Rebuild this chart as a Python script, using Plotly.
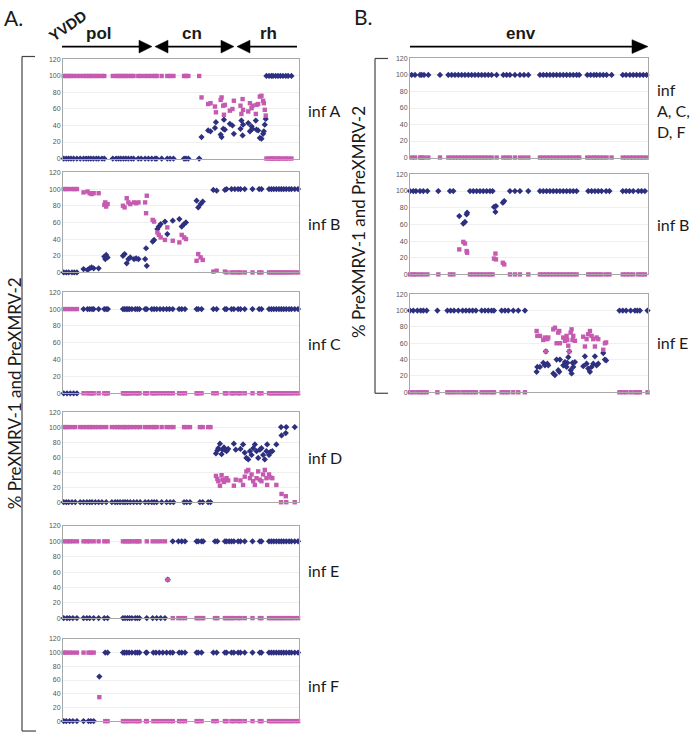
import plotly.graph_objects as go

W, H = 691, 737
BLUE = "#2D2F7F"
PINK = "#C65AB1"

# ---------------- DATA (x = relative genome position, 0-100) ----------------
# Panel A (pol / cn / rh region)
# infA
infA_pre1_full_x = [86.2, 87.3, 88.3, 89.0, 90.1, 91.1, 92.1, 93.2, 94.4, 95.4, 96.8]
infA_pre2_full_x = [0.3, 1.4, 2.4, 3.4, 4.5, 5.9, 7.3, 8.7, 9.8, 10.8, 11.8, 12.9, 14.1, 15.1,
                    16.5, 17.5, 21.1, 22.5, 23.5, 24.5, 25.6, 26.6, 27.7, 28.9, 29.9, 31.9, 33.1,
                    34.8, 36.2, 37.6, 39.0, 39.7, 41.8, 44.2, 45.4, 46.8, 51.3, 52.1, 53.1, 57.7]
infA_mix_x = [58.7, 61.5, 62.5, 64.4, 64.8, 66.8, 67.2, 67.9, 68.2, 68.6, 70.7, 71.8, 72.4, 75.2,
              75.6, 76.1, 76.3, 78.5, 79.2, 79.9, 80.3, 81.7, 82.0, 82.7, 83.4, 84.1, 84.8, 85.1,
              85.5, 85.9]
infA_mix_pre1 = [26, 34, 33, 37, 44, 29, 26, 36, 47, 35, 42, 40, 30, 36, 46, 28, 41, 43, 33, 39,
                 36, 46, 35, 34, 25, 24, 30, 33, 41, 48]
infA_mix_pre2 = [74, 66, 67, 63, 56, 71, 74, 64, 53, 65, 58, 60, 70, 64, 54, 72, 59, 57, 67, 61,
                 64, 54, 65, 66, 75, 76, 70, 67, 59, 52]

# infB
infB_pre1_full_x = [69.3, 71.4, 72.8, 74.2, 75.2, 77.0, 80.3, 83.1, 84.1, 87.3, 88.3, 89.3, 90.4,
                    91.5, 92.5, 93.5, 94.6, 95.8, 96.8, 98.2, 99.6]
infB_pre2_full_x = [0.3, 1.4, 2.4, 3.8, 4.8, 5.9]
infB_mix_x = [8.7, 10.4, 11.3, 12.1, 13.0, 15.1, 17.5, 17.9, 18.3, 18.9, 25.4, 26.1, 27.0, 27.7,
              28.5, 30.1, 31.0, 32.0, 34.8, 35.2, 35.5, 38.0, 38.6, 40.0, 40.6, 41.4, 43.2, 44.2,
              46.5, 49.3, 50.3, 51.3, 52.1, 56.6, 57.3, 58.3, 59.2, 63.7, 65.1, 68.6]
infB_mix_pre1 = [4, 3, 5, 6, 5, 5, 19, 16, 21, 18, 20, 22, 11, 16, 18, 16, 17, 16, 16, 29, 8,
                 37, 39, 52, 55, 58, 61, 46, 62, 64, 55, 58, 60, 86, 78, 82, 85, 99, 98, 99]
infB_mix_pre2 = [96, 97, 95, 94, 95, 95, 81, 84, 79, 82, 80, 78, 89, 84, 82, 84, 83, 84, 84, 71,
                 92, 63, 61, 48, 45, 42, 39, 54, 38, 36, 45, 42, 40, 14, 22, 18, 15, 1, 2, 1]

# infC
infC_pre1_full_x = [8.7, 10.4, 11.3, 12.3, 13.0, 15.1, 17.5, 18.3, 19.0, 25.4, 26.1, 26.8, 27.5,
                    28.2, 29.2, 30.6, 31.5, 32.4, 34.8, 35.5, 37.6, 38.6, 39.7, 41.1, 42.5, 43.9,
                    45.1, 46.5, 49.2, 50.3, 51.7, 56.6, 57.3, 58.7, 63.7, 65.1, 68.6, 69.3, 71.4,
                    72.4, 74.2, 75.2, 77.0, 80.3, 83.1, 84.1, 87.3, 88.3, 89.3, 90.4, 91.5, 92.5,
                    93.5, 94.6, 95.8, 96.8, 98.2, 99.6]
infC_pre2_full_x = [0.3, 1.7, 3.1, 4.5, 5.9]
infC_mix_x = []
infC_mix_pre1 = []
infC_mix_pre2 = []

# infD
infD_pre1_full_x = [92.4, 94.6, 98.2]
infD_pre2_full_x = [0.3, 1.4, 2.4, 3.8, 5.2, 7.3, 8.7, 10.1, 11.3, 12.3, 13.7, 15.1, 16.5, 18.3,
                    20.7, 22.1, 23.1, 24.2, 25.4, 26.3, 27.3, 28.5, 29.9, 31.3, 32.7, 34.8, 36.2,
                    37.6, 38.6, 39.7, 41.8, 43.9, 45.4, 46.8, 51.3, 52.4, 53.8, 58.0, 59.2, 61.5,
                    62.5]
infD_mix_x = [64.8, 65.4, 65.8, 66.5, 67.2, 67.6, 68.2, 68.6, 69.3, 70.0, 72.4, 73.2, 75.2, 76.3,
              77.0, 77.7, 78.5, 79.2, 79.9, 80.6, 81.3, 82.0, 82.7, 83.4, 84.1, 84.8, 85.5, 86.2,
              86.5, 87.3, 87.9, 88.7, 90.4, 92.6, 94.4]
infD_mix_pre1 = [65, 69, 72, 78, 64, 70, 73, 70, 68, 71, 78, 70, 71, 77, 66, 59, 57, 68, 63, 72,
                 77, 68, 59, 70, 72, 63, 57, 68, 77, 63, 67, 68, 77, 89, 92]
infD_mix_pre2 = [35, 31, 28, 22, 36, 30, 27, 30, 32, 29, 22, 30, 29, 23, 34, 41, 43, 32, 37, 28,
                 23, 32, 41, 30, 28, 37, 43, 32, 23, 37, 33, 32, 23, 11, 8]

# infE
infE_pre1_full_x = [46.5, 48.9, 50.3, 51.7, 56.6, 57.3, 58.7, 59.4, 64.4, 65.4, 68.6, 69.3, 70.4,
                    71.4, 72.4, 74.2, 75.2, 77.0, 80.3, 83.4, 84.1, 87.3, 88.3, 89.3, 90.4, 91.5,
                    92.5, 93.5, 94.6, 95.8, 96.8, 98.2, 99.6]
infE_pre2_full_x = [0.3, 1.7, 2.8, 4.2, 5.9, 8.7, 10.1, 11.3, 13.0, 15.1, 17.5, 18.9, 25.4, 26.3,
                    27.3, 28.2, 29.2, 30.6, 31.5, 32.4, 35.5, 38.0, 39.7, 41.4, 43.2]
infE_mix_x = [44.4]
infE_mix_pre1 = [50]
infE_mix_pre2 = [50]

# infF
infF_pre1_full_x = [17.9, 18.9, 25.4, 26.1, 27.0, 28.0, 29.2, 30.6, 31.5, 32.4, 35.2, 35.5, 38.3,
                    39.4, 40.8, 42.3, 43.9, 45.4, 46.5, 49.2, 50.3, 51.7, 56.6, 57.3, 58.7, 63.7,
                    65.1, 68.6, 69.3, 71.4, 72.4, 74.2, 75.2, 77.0, 80.3, 83.4, 84.1, 87.3, 88.3,
                    89.3, 90.4, 91.5, 92.5, 93.5, 94.6, 95.8, 96.8, 98.2, 99.6]
infF_pre2_full_x = [0.3, 1.4, 2.8, 4.2, 5.9, 8.7, 10.8, 11.8, 13.0]
infF_mix_x = [15.4]
infF_mix_pre1 = [65]
infF_mix_pre2 = [35]

# Panel B (env region)
envACDF_pre1_full_x = [0.7, 2.1, 4.2, 4.9, 5.9, 7.7, 12.6, 16.1, 17.5, 18.9, 20.3, 21.7, 23.1,
                       24.5, 25.9, 27.3, 28.7, 30.1, 31.5, 32.9, 34.3, 36.4, 39.2, 40.6, 42.0,
                       44.1, 46.2, 47.9, 49.7, 54.6, 56.0, 57.4, 58.8, 60.2, 61.6, 63.0, 64.4,
                       65.8, 67.2, 68.6, 70.0, 71.1, 74.5, 75.9, 77.3, 78.4, 79.8, 81.2, 82.6,
                       84.7, 89.4, 90.8, 92.4, 93.8, 95.2, 96.6, 98.0, 99.4]
envACDF_pre2_full_x = []
envACDF_mix_x = []
envACDF_mix_pre1 = []
envACDF_mix_pre2 = []

envB_pre1_full_x = [0.0, 1.4, 2.5, 4.2, 5.6, 7.3, 11.9, 16.8, 18.2, 25.2, 26.6, 28.0, 29.4, 30.8,
                    32.2, 33.6, 34.7, 42.0, 44.1, 46.2, 49.7, 54.6, 56.0, 57.4, 58.8, 60.2, 61.6,
                    63.0, 64.4, 65.8, 67.2, 68.6, 70.0, 74.9, 76.3, 77.7, 79.1, 80.5, 82.4, 83.8,
                    89.4, 90.8, 92.2, 93.8, 95.9, 97.3, 98.7]
envB_pre2_full_x = []
envB_mix_x = [20.7, 22.4, 23.1, 23.8, 24.0, 35.3, 35.9, 36.1, 39.0, 39.6]
envB_mix_pre1 = [70, 61, 63, 72, 74, 81, 75, 82, 86, 88]
envB_mix_pre2 = [30, 39, 37, 28, 26, 19, 25, 18, 14, 12]

envE_pre1_full_x = [0.0, 1.4, 3.1, 4.5, 5.6, 7.0, 11.5, 15.7, 17.1, 18.5, 20.3, 22.1, 23.5, 24.9,
                    26.3, 27.7, 30.1, 31.5, 32.9, 34.3, 35.3, 38.5, 39.9, 41.3, 43.4, 45.5, 48.3,
                    88.0, 89.4, 90.8, 92.7, 94.5, 95.5, 96.6, 99.8]
envE_pre2_full_x = []
envE_mix_x = [53.2, 53.5, 54.6, 56.0, 56.7, 57.1, 57.7, 58.1, 60.2, 60.9, 61.6, 62.3, 62.7, 63.0,
              64.4, 65.1, 65.8, 66.1, 66.5, 66.9, 67.5, 67.9, 68.3, 68.6, 69.3, 72.8, 73.5, 74.2,
              74.9, 75.6, 76.3, 77.0, 77.7, 78.4, 79.1, 81.2, 81.9, 82.4]
envE_mix_pre2 = [75, 69, 69, 64, 67, 50, 65, 67, 77, 79, 60, 73, 75, 60, 67, 63, 69, 64, 57, 50,
                 73, 77, 64, 69, 63, 68, 56, 65, 71, 75, 69, 65, 56, 67, 65, 52, 60, 61]
envE_mix_pre1 = [25, 31, 31, 36, 33, 50, 35, 33, 23, 21, 40, 27, 25, 40, 33, 37, 31, 36, 43, 50,
                 27, 23, 36, 31, 37, 32, 44, 35, 29, 25, 31, 35, 44, 33, 35, 48, 40, 39]

y_ticks = [0, 20, 40, 60, 80, 100, 120]
y_ticklabels = ["0", "20", "40", "60", "80", "100", "120"]

panel_labels_A = ["inf A", "inf B", "inf C", "inf D", "inf E", "inf F"]
panel_labels_B = ["inf<br>A, C,<br>D, F", "inf B", "inf E"]

# ---------------- LAYOUT (pixel geometry) ----------------
LX = (63, 299)
RX = (410, 648)
panels = [
    (infA_pre1_full_x, infA_pre2_full_x, infA_mix_x, infA_mix_pre1, infA_mix_pre2, LX, (56, 156)),
    (infB_pre1_full_x, infB_pre2_full_x, infB_mix_x, infB_mix_pre1, infB_mix_pre2, LX, (170, 271)),
    (infC_pre1_full_x, infC_pre2_full_x, infC_mix_x, infC_mix_pre1, infC_mix_pre2, LX, (291, 393)),
    (infD_pre1_full_x, infD_pre2_full_x, infD_mix_x, infD_mix_pre1, infD_mix_pre2, LX, (412, 503)),
    (infE_pre1_full_x, infE_pre2_full_x, infE_mix_x, infE_mix_pre1, infE_mix_pre2, LX, (527, 620)),
    (infF_pre1_full_x, infF_pre2_full_x, infF_mix_x, infF_mix_pre1, infF_mix_pre2, LX, (641, 724)),
    (envACDF_pre1_full_x, envACDF_pre2_full_x, envACDF_mix_x, envACDF_mix_pre1, envACDF_mix_pre2, RX, (55, 155)),
    (envB_pre1_full_x, envB_pre2_full_x, envB_mix_x, envB_mix_pre1, envB_mix_pre2, RX, (172, 273)),
    (envE_pre1_full_x, envE_pre2_full_x, envE_mix_x, envE_mix_pre1, envE_mix_pre2, RX, (293, 392)),
]


def fx(p):
    return p / W


def fy(p):
    return 1 - p / H


fig = go.Figure()
lay = {}
for i, (f1, f2, mx, m1, m2, xd, yd) in enumerate(panels):
    n = i + 1
    sfx = "" if n == 1 else str(n)
    xs = list(f1) + list(f2) + list(mx)
    y1 = [100] * len(f1) + [0] * len(f2) + list(m1)
    y2 = [0] * len(f1) + [100] * len(f2) + list(m2)
    fig.add_trace(go.Scatter(x=xs, y=y1, mode="markers", cliponaxis=False, showlegend=False,
                             marker=dict(symbol="diamond", size=4.8, color=BLUE, line=dict(width=0)),
                             xaxis="x" + sfx, yaxis="y" + sfx, hoverinfo="skip"))
    fig.add_trace(go.Scatter(x=xs, y=y2, mode="markers", cliponaxis=False, showlegend=False,
                             marker=dict(symbol="square", size=4.4, color=PINK, line=dict(width=0)),
                             xaxis="x" + sfx, yaxis="y" + sfx, hoverinfo="skip"))
    lay["xaxis" + sfx] = dict(domain=[fx(xd[0]), fx(xd[1])], range=[0, 100], showgrid=False,
                              zeroline=False, showticklabels=False, ticks="", showline=True,
                              mirror=True, linecolor="#A8A8A8", linewidth=1, anchor="y" + sfx,
                              fixedrange=True)
    lay["yaxis" + sfx] = dict(domain=[fy(yd[1]), fy(yd[0])], range=[0, 120], tickvals=y_ticks,
                              ticktext=y_ticklabels, showgrid=True, gridcolor="#EFEFEF",
                              gridwidth=1, zeroline=False, showline=True, mirror=True,
                              linecolor="#A8A8A8", linewidth=1, ticks="", fixedrange=True,
                              tickfont=dict(size=7, color="#555555", family="Liberation Sans"),
                              anchor="x" + sfx)

ann = []
TXT = "#1a1a1a"
LBL = "Lato"
# panel letters
ann.append(dict(text="A.", x=fx(2), y=fy(14), xanchor="left", yanchor="middle",
                font=dict(size=21, family=LBL, color=TXT)))
ann.append(dict(text="B.", x=fx(352), y=fy(13), xanchor="left", yanchor="middle",
                font=dict(size=21, family=LBL, color=TXT)))
# gene labels
for t, cx in [("pol", 99), ("cn", 192), ("rh", 268)]:
    ann.append(dict(text="<b>%s</b>" % t, x=fx(cx), y=fy(30), xanchor="center", yanchor="middle",
                    font=dict(size=17, family="Liberation Sans", color=TXT)))
ann.append(dict(text="<b>env</b>", x=fx(521), y=fy(30), xanchor="center", yanchor="middle",
                font=dict(size=17, family="Liberation Sans", color=TXT)))
ann.append(dict(text="<b>YVDD</b>", x=fx(68), y=fy(22), xanchor="center", yanchor="middle",
                textangle=-35, font=dict(size=15, family="Liberation Sans", color=TXT)))
# infection labels
left_centers = [108, 222, 343, 458, 572, 688]
for t, cy in zip(panel_labels_A, left_centers):
    ann.append(dict(text=t, x=fx(306), y=fy(cy), xanchor="left", yanchor="middle",
                    font=dict(size=16, family=LBL, color=TXT)))
right_centers = [108, 223, 342]
for t, cy in zip(panel_labels_B, right_centers):
    ann.append(dict(text=t, x=fx(655), y=fy(cy), xanchor="left", yanchor="middle", align="left",
                    font=dict(size=16, family=LBL, color=TXT)))
# y titles
ytitle = "% PreXMRV-1 and PreXMRV-2"
ann.append(dict(text=ytitle, x=fx(14), y=fy(393), xanchor="center", yanchor="middle",
                textangle=-90, font=dict(size=17, family=LBL, color=TXT)))
ann.append(dict(text=ytitle, x=fx(359), y=fy(220), xanchor="center", yanchor="middle",
                textangle=-90, font=dict(size=17, family=LBL, color=TXT)))
for a in ann:
    a.update(xref="paper", yref="paper", showarrow=False)

shapes = []


def line(x0, y0, x1, y1, w=1.8, c="#000000"):
    shapes.append(dict(type="line", xref="paper", yref="paper", x0=fx(x0), y0=fy(y0),
                       x1=fx(x1), y1=fy(y1), line=dict(color=c, width=w)))


def head(tip, base, yc, half=6.5):
    p = "M %f,%f L %f,%f L %f,%f Z" % (fx(tip), fy(yc), fx(base), fy(yc - half), fx(base), fy(yc + half))
    shapes.append(dict(type="path", xref="paper", yref="paper", path=p,
                       fillcolor="#000000", line=dict(color="#000000", width=0.5)))


AY = 43
line(62, AY, 141, AY)
head(152, 139, AY)
line(167, AY, 222, AY)
head(155, 168, AY)
head(234, 221, AY)
line(249, AY, 297, AY)
head(237, 250, AY)
line(410, AY, 634, AY)
head(648, 632, AY, 7)

# brackets
BR = "#444444"
line(22, 53, 22, 734, 1.2, BR)
line(22, 53, 35, 53, 1.2, BR)
line(22, 734, 36, 734, 1.2, BR)
line(375, 55, 375, 393, 1.2, BR)
line(375, 55, 388, 55, 1.2, BR)
line(375, 393, 388, 393, 1.2, BR)

fig.update_layout(width=W, height=H, margin=dict(l=0, r=0, t=0, b=0),
                  paper_bgcolor="white", plot_bgcolor="white", hovermode=False,
                  annotations=ann, shapes=shapes, **lay)
fig.write_html("out.html", config={"displayModeBar": False, "staticPlot": True},
               post_script="document.body.style.margin='0';document.body.style.overflow='hidden';")
